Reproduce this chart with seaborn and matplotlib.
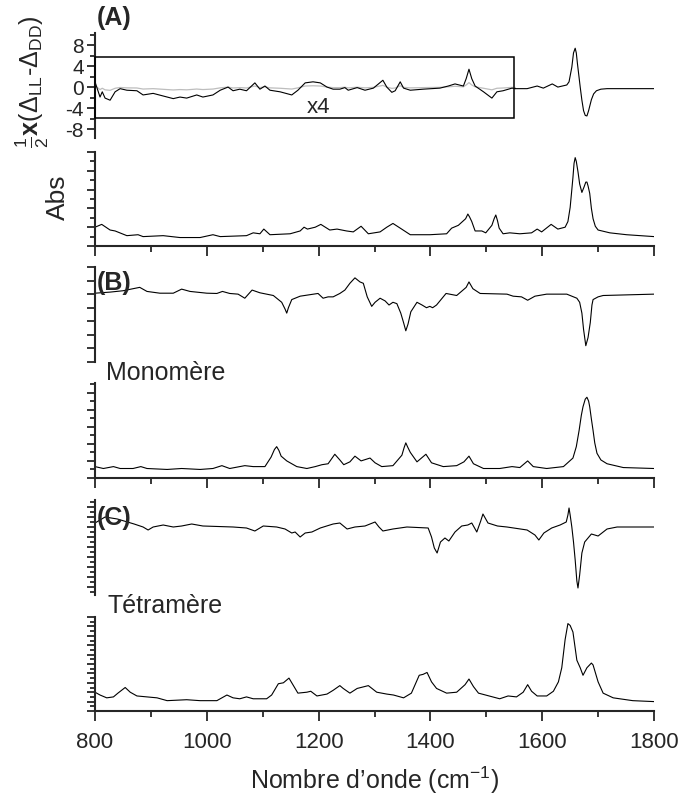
import numpy as np
import seaborn as sns
import matplotlib.pyplot as plt
from matplotlib.patches import Rectangle
from matplotlib.ticker import MultipleLocator

# ---- data (wavenumber in cm-1, arbitrary units) ----
# (A) VCD, part inside the box (shown x4)
vcd_a_zoom_wn = [800, 809, 813, 818, 827, 836, 845, 857, 875, 886, 904, 922, 940, 952, 964,
                 982, 993, 1011, 1024, 1038, 1047, 1059, 1071, 1086, 1095, 1104, 1113, 1131,
                 1152, 1163, 1176, 1190, 1203, 1215, 1226, 1238, 1247, 1253, 1269, 1283, 1298,
                 1315, 1322, 1331, 1337, 1346, 1352, 1364, 1387, 1417, 1432, 1444, 1459, 1464,
                 1469, 1474, 1480, 1495, 1510, 1519, 1530, 1546, 1552]
vcd_a_zoom_val = [1.0, -1.9, -0.9, -2.1, -2.5, -0.9, -0.3, -0.6, -0.7, -1.5, -1.2, -1.7, -2.2,
                  -1.9, -2.1, -1.5, -1.9, -1.5, -0.6, 0.0, -0.7, -0.4, -0.7, 0.8, -0.4, 0.2,
                  -0.6, -0.9, -1.5, -0.6, 0.8, 1.0, 0.8, 0.0, -0.4, -0.4, -0.1, -0.6, -0.1,
                  -0.6, -0.2, 1.3, 0.0, -1.0, -0.7, 1.0, -0.2, -0.6, -0.4, -0.2, 0.2, 0.6, 0.2,
                  1.6, 3.4, 1.6, 0.2, -0.9, -2.1, -0.9, -0.7, -0.2, -0.3]
zoom_factor = 4
# (A) VCD, rest of the range (x1)
vcd_a_wn = [1552, 1573, 1591, 1602, 1618, 1628, 1644, 1648, 1653, 1656, 1659, 1661, 1663,
            1666, 1668, 1671, 1674, 1677, 1680, 1683, 1688, 1692, 1697, 1705, 1716, 1800]
vcd_a_val = [-0.3, -0.3, 0.2, -0.2, 0.6, 0.0, 0.4, 1.0, 3.8, 6.5, 7.4, 6.5, 4.5, 1.8, 0.0,
             -2.5, -4.5, -5.4, -5.5, -4.5, -2.4, -1.3, -0.7, -0.4, -0.3, -0.3]

# (A) absorbance
abs_a_wn = [800, 812, 827, 836, 857, 877, 886, 922, 952, 988, 1011, 1024, 1071, 1083, 1095,
            1102, 1113, 1149, 1167, 1174, 1180, 1194, 1204, 1220, 1233, 1250, 1262, 1276,
            1289, 1310, 1322, 1333, 1346, 1364, 1399, 1429, 1438, 1450, 1463, 1467, 1470,
            1474, 1480, 1492, 1499, 1510, 1514, 1517, 1520, 1523, 1530, 1542, 1560, 1581,
            1591, 1599, 1616, 1628, 1641, 1646, 1650, 1653, 1655, 1657, 1659, 1661, 1664,
            1667, 1671, 1675, 1678, 1680, 1682, 1685, 1688, 1691, 1695, 1700, 1721, 1751, 1800]
abs_a_val = [0.20, 0.23, 0.17, 0.16, 0.11, 0.12, 0.10, 0.11, 0.09, 0.09, 0.12, 0.10, 0.11,
             0.14, 0.13, 0.18, 0.12, 0.13, 0.16, 0.20, 0.18, 0.20, 0.23, 0.17, 0.18, 0.16,
             0.15, 0.21, 0.13, 0.15, 0.20, 0.24, 0.19, 0.12, 0.12, 0.13, 0.19, 0.22, 0.29,
             0.34, 0.31, 0.26, 0.16, 0.16, 0.14, 0.22, 0.29, 0.33, 0.27, 0.19, 0.13, 0.14,
             0.13, 0.14, 0.18, 0.15, 0.23, 0.18, 0.20, 0.26, 0.41, 0.60, 0.73, 0.88, 0.94,
             0.90, 0.79, 0.66, 0.57, 0.63, 0.68, 0.68, 0.64, 0.56, 0.40, 0.29, 0.21, 0.17,
             0.14, 0.12, 0.10]

# (B) monomer VCD
vcd_b_wn = [800, 827, 850, 880, 893, 916, 940, 955, 970, 1000, 1018, 1028, 1041, 1056, 1068,
            1081, 1095, 1119, 1134, 1140, 1143, 1146, 1152, 1167, 1199, 1208, 1217, 1226,
            1238, 1247, 1256, 1265, 1274, 1280, 1287, 1295, 1301, 1310, 1319, 1326, 1333,
            1340, 1347, 1352, 1356, 1360, 1365, 1376, 1385, 1393, 1399, 1404, 1411, 1428,
            1447, 1464, 1469, 1476, 1489, 1537, 1548, 1563, 1574, 1587, 1608, 1644, 1662,
            1667, 1671, 1674, 1678, 1682, 1686, 1689, 1691, 1700, 1709, 1800]
vcd_b_val = [0.07, 0.15, 0.25, 0.5, 0.2, 0.07, 0.07, 0.37, 0.2, 0.07, 0.05, 0.2, 0.05, 0.0,
             -0.3, 0.3, 0.1, -0.1, -0.6, -1.1, -1.4, -1.0, -0.4, -0.15, 0.05, -0.3, -0.2,
             -0.2, 0.05, 0.3, 0.8, 1.2, 0.9, 0.8, -0.2, -0.9, -0.6, -0.3, -0.5, -0.8, -0.6,
             -0.7, -1.4, -2.1, -2.7, -2.2, -1.3, -0.6, -0.8, -1.0, -0.9, -1.0, -0.8, 0.05,
             -0.1, 0.5, 0.9, 0.4, 0.05, 0.0, -0.15, -0.2, -0.45, -0.15, 0.0, 0.0, -0.3,
             -0.6, -1.4, -2.6, -3.8, -3.2, -2.1, -0.8, -0.4, -0.2, -0.1, 0.0]

# (B) monomer absorbance
abs_b_wn = [800, 815, 833, 845, 868, 882, 893, 929, 955, 988, 1011, 1027, 1041, 1068, 1083,
            1104, 1115, 1121, 1125, 1129, 1133, 1143, 1161, 1179, 1194, 1206, 1217, 1229,
            1238, 1245, 1256, 1265, 1276, 1292, 1301, 1313, 1333, 1349, 1353, 1356, 1359,
            1364, 1376, 1392, 1402, 1423, 1447, 1460, 1469, 1477, 1495, 1524, 1546, 1560,
            1574, 1584, 1608, 1638, 1655, 1661, 1666, 1670, 1673, 1677, 1680, 1683, 1685,
            1688, 1691, 1694, 1698, 1705, 1716, 1745, 1800]
abs_b_val = [0.12, 0.10, 0.12, 0.10, 0.10, 0.12, 0.10, 0.09, 0.10, 0.09, 0.10, 0.13, 0.10,
             0.13, 0.12, 0.12, 0.22, 0.30, 0.33, 0.29, 0.23, 0.18, 0.12, 0.10, 0.12, 0.14,
             0.15, 0.25, 0.19, 0.14, 0.17, 0.23, 0.18, 0.21, 0.16, 0.12, 0.13, 0.24, 0.32,
             0.37, 0.33, 0.27, 0.17, 0.25, 0.16, 0.12, 0.13, 0.17, 0.23, 0.15, 0.10, 0.10,
             0.12, 0.11, 0.18, 0.12, 0.10, 0.12, 0.21, 0.33, 0.50, 0.66, 0.75, 0.83, 0.85,
             0.81, 0.75, 0.62, 0.50, 0.37, 0.26, 0.19, 0.15, 0.11, 0.10]

# (C) tetramer VCD
vcd_c_wn = [800, 818, 840, 870, 886, 895, 904, 922, 940, 955, 973, 993, 1047, 1071, 1086,
            1101, 1125, 1140, 1152, 1158, 1167, 1176, 1188, 1203, 1226, 1238, 1251, 1265,
            1283, 1301, 1308, 1315, 1333, 1358, 1396, 1402, 1407, 1412, 1418, 1426, 1433,
            1444, 1456, 1467, 1474, 1483, 1490, 1494, 1498, 1503, 1520, 1537, 1573, 1587,
            1594, 1603, 1617, 1632, 1643, 1646, 1648, 1650, 1653, 1656, 1659, 1662, 1664,
            1667, 1671, 1676, 1688, 1700, 1716, 1734, 1800]
vcd_c_val = [0.4, 1.0, 0.8, 0.3, 0.0, -0.3, 0.0, 0.2, 0.0, 0.1, 0.3, 0.1, 0.0, -0.1, -0.4,
             0.1, 0.0, -0.2, -0.6, -0.5, -1.0, -0.6, -0.5, -0.1, 0.3, 0.4, -0.2, 0.0, 0.1,
             0.5, 0.0, -0.4, -0.2, 0.0, -0.1, -1.0, -2.1, -2.6, -1.5, -1.1, -1.4, -0.5, 0.1,
             0.2, 0.4, -0.5, 0.6, 1.3, 0.9, 0.4, 0.1, 0.0, -0.3, -0.8, -1.3, -0.6, -0.1, 0.2,
             0.5, 1.2, 1.9, 1.2, 0.0, -1.5, -3.3, -5.4, -6.1, -4.8, -2.6, -1.5, -0.7, -0.9,
             -0.2, 0.0, 0.0]

# (C) tetramer absorbance
abs_c_wn = [800, 809, 821, 833, 841, 854, 863, 875, 893, 911, 929, 964, 988, 1018, 1027,
            1036, 1047, 1059, 1071, 1083, 1107, 1116, 1128, 1137, 1147, 1155, 1163, 1179,
            1186, 1197, 1215, 1226, 1238, 1244, 1256, 1269, 1289, 1304, 1322, 1334, 1352,
            1366, 1380, 1387, 1394, 1402, 1411, 1429, 1447, 1462, 1469, 1477, 1486, 1524,
            1539, 1554, 1566, 1574, 1581, 1591, 1608, 1620, 1629, 1635, 1641, 1646, 1650,
            1655, 1662, 1668, 1673, 1680, 1688, 1691, 1700, 1709, 1727, 1762, 1800]
abs_c_val = [0.20, 0.17, 0.14, 0.15, 0.19, 0.25, 0.20, 0.16, 0.15, 0.14, 0.11, 0.12, 0.11,
             0.11, 0.14, 0.17, 0.14, 0.13, 0.15, 0.13, 0.13, 0.17, 0.29, 0.30, 0.35, 0.27,
             0.19, 0.20, 0.21, 0.16, 0.18, 0.22, 0.27, 0.24, 0.19, 0.24, 0.27, 0.20, 0.18,
             0.17, 0.14, 0.19, 0.38, 0.39, 0.41, 0.31, 0.24, 0.19, 0.20, 0.28, 0.34, 0.26,
             0.19, 0.13, 0.16, 0.15, 0.20, 0.28, 0.21, 0.16, 0.16, 0.21, 0.31, 0.46, 0.76,
             0.93, 0.91, 0.84, 0.54, 0.46, 0.38, 0.46, 0.51, 0.49, 0.31, 0.19, 0.14, 0.11,
             0.10]

xticks = [800, 1000, 1200, 1400, 1600, 1800]

# ---- style ----
sns.set_style('ticks')
plt.rcParams['font.family'] = ['Liberation Sans', 'DejaVu Sans']
plt.rcParams['mathtext.fontset'] = 'custom'
plt.rcParams['mathtext.rm'] = 'Liberation Sans'
plt.rcParams['mathtext.it'] = 'Liberation Sans:italic'
plt.rcParams['mathtext.bf'] = 'Liberation Sans:bold'

fig = plt.figure(figsize=(6.81, 7.98), dpi=100)
W = 681.0
H = 798.0
left, width = 95 / W, 559 / W


def make_ax(top_px, bot_px):
    return fig.add_axes([left, 1 - bot_px / H, width, (bot_px - top_px) / H])


def curve(ax, x, y, color='black', lw=0.8):
    sns.lineplot(x=x, y=y, ax=ax, color=color, linewidth=lw,
                 estimator=None, sort=False)


def style(ax, ylim, major, minor, bottom_axis, ylabels=False):
    ax.set_xlim(800, 1800)
    ax.set_ylim(*ylim)
    ax.set_facecolor('none')
    ax.spines['top'].set_visible(False)
    ax.spines['right'].set_visible(False)
    ax.spines['left'].set_linewidth(1.5)
    ax.yaxis.set_major_locator(MultipleLocator(major))
    ax.yaxis.set_minor_locator(MultipleLocator(minor))
    ax.tick_params(axis='y', which='major', direction='out', length=6, width=1.3,
                   labelsize=15, pad=2)
    ax.tick_params(axis='y', which='minor', direction='out', length=3.5, width=1.3)
    if not ylabels:
        ax.set_yticklabels([])
    if bottom_axis:
        ax.spines['bottom'].set_linewidth(1.5)
        ax.set_xticks(xticks)
        ax.xaxis.set_minor_locator(MultipleLocator(100))
        ax.tick_params(axis='x', which='major', direction='out', length=7, width=1.3,
                       labelsize=16, pad=8)
        ax.tick_params(axis='x', which='minor', direction='out', length=4, width=1.3)
    else:
        ax.spines['bottom'].set_visible(False)
        ax.set_xticks([])
    ax.set_xlabel('')
    ax.set_ylabel('')


# ---- (A) VCD ----
ax1 = make_ax(33, 138)
gray_val = [v / zoom_factor for v in vcd_a_zoom_val]
curve(ax1, vcd_a_zoom_wn, gray_val, color='#bdbdbd', lw=0.9)
curve(ax1, vcd_a_zoom_wn, vcd_a_zoom_val)
curve(ax1, vcd_a_wn, vcd_a_val)
ax1.add_patch(Rectangle((800, -5.8), 750, 11.6, fill=False, edgecolor='black',
                        linewidth=1.1, zorder=3, clip_on=False))
style(ax1, (-9.7, 10.3), 4, 2, False, ylabels=True)
ax1.set_yticks([-8, -4, 0, 4, 8])
ax1.set_yticklabels(['-8', '-4', '0', '4', '8'])
ax1.text(1199, -3.8, 'x4', fontsize=16, ha='center', va='center')
ax1.text(804, 13.1, '(A)', fontsize=18, fontweight='bold', ha='left', va='center')

# ---- (A) absorbance ----
ax2 = make_ax(152, 246)
curve(ax2, abs_a_wn, abs_a_val)
style(ax2, (0, 1), 0.2, 0.1, True)
ax2.set_xticklabels([])

# ---- (B) VCD ----
ax3 = make_ax(267, 362)
curve(ax3, vcd_b_wn, vcd_b_val)
style(ax3, (-5, 2), 1, 1, False)
ax3.text(803, 0.8, '(B)', fontsize=18, fontweight='bold', ha='left', va='center')

# ---- (B) absorbance ----
ax4 = make_ax(383, 478)
curve(ax4, abs_b_wn, abs_b_val)
style(ax4, (0, 1), 0.18, 0.09, True)
ax4.set_xticklabels([])
ax4.text(820, 1.1, 'Monomère', fontsize=18, ha='left', va='center')

# ---- (C) VCD ----
ax5 = make_ax(500, 595)
curve(ax5, vcd_c_wn, vcd_c_val)
style(ax5, (-6.8, 2.7), 1, 0.5, False)
ax5.text(803, 0.9, '(C)', fontsize=18, fontweight='bold', ha='left', va='center')

# ---- (C) absorbance ----
ax6 = make_ax(617, 711)
curve(ax6, abs_c_wn, abs_c_val)
style(ax6, (0, 1), 0.1, 0.05, True)
ax6.set_xticklabels([str(t) for t in xticks])
ax6.text(822, 1.12, 'Tétramère', fontsize=18, ha='left', va='center')

# ---- axis titles ----
fig.text(32 / W, 1 - 82 / H,
         r'$\frac{1}{2}$$\mathbf{x}$(Δ$_{\mathrm{LL}}$-Δ$_{\mathrm{DD}}$)',
         rotation=90, fontsize=18, ha='center', va='center')
fig.text(58 / W, 1 - 197 / H, 'Abs', rotation=90, fontsize=19, ha='center', va='center')
fig.text(0.5 * (95 + 654) / W, 1 - 780 / H, r'Nombre d’onde (cm$^{-1}$)',
         fontsize=18, ha='center', va='center')

fig.savefig('out.png', dpi=100)
